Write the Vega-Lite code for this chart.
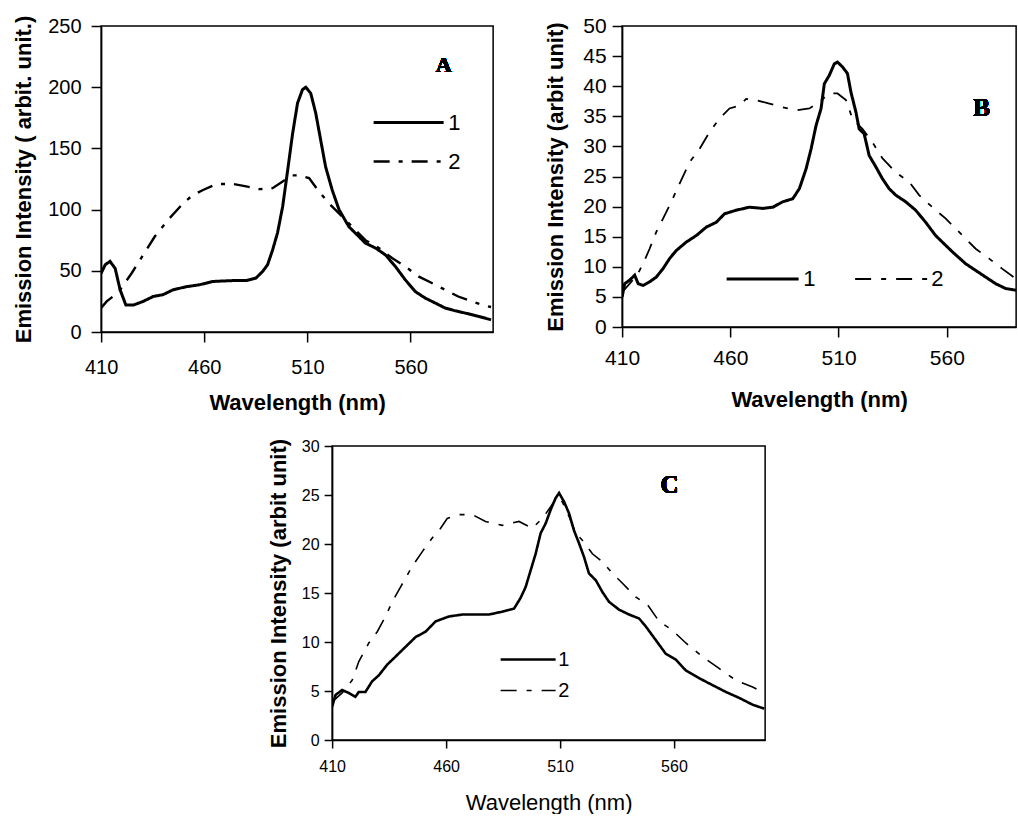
{
"$schema": "https://vega.github.io/schema/vega-lite/v6.json",
"background": "white",
"padding": {"left": 12, "top": 14, "right": 0, "bottom": 0},
"spacing": 23,
"center": true,
"config": {
  "view": {"stroke": "black", "strokeWidth": 1.5},
  "axis": {"domainColor": "black", "domainWidth": 1.5, "tickColor": "black", "tickWidth": 1.5, "tickSize": 10, "labelColor": "black", "titleColor": "black", "labelFont": "Liberation Sans", "titleFont": "Liberation Sans", "grid": false, "labelFlush": false, "labelOverlap": false},
  "legend": {"symbolStrokeColor": "black", "labelFont": "Liberation Sans", "labelColor": "black", "padding": 0, "symbolType": "stroke"}
},
"datasets": {
"A": [
{"wl":410,"intensity":48,"series":"1"},{"wl":412,"intensity":55,"series":"1"},{"wl":414.3,"intensity":57.7,"series":"1"},{"wl":416.8,"intensity":52,"series":"1"},{"wl":419.2,"intensity":34.5,"series":"1"},{"wl":422,"intensity":22,"series":"1"},{"wl":425.6,"intensity":22,"series":"1"},{"wl":430.4,"intensity":25,"series":"1"},{"wl":435.2,"intensity":29,"series":"1"},{"wl":440,"intensity":30.5,"series":"1"},{"wl":444.9,"intensity":34.5,"series":"1"},{"wl":451.3,"intensity":37,"series":"1"},{"wl":457.7,"intensity":38.6,"series":"1"},{"wl":464.2,"intensity":41.3,"series":"1"},{"wl":473.8,"intensity":42,"series":"1"},{"wl":480.3,"intensity":42,"series":"1"},{"wl":485,"intensity":44,"series":"1"},{"wl":488.3,"intensity":49.5,"series":"1"},{"wl":490.7,"intensity":55,"series":"1"},{"wl":493.1,"intensity":67,"series":"1"},{"wl":495.5,"intensity":81,"series":"1"},{"wl":498,"intensity":102.6,"series":"1"},{"wl":500.4,"intensity":132,"series":"1"},{"wl":502.8,"intensity":162,"series":"1"},{"wl":505.2,"intensity":187,"series":"1"},{"wl":507.6,"intensity":198,"series":"1"},{"wl":509.2,"intensity":200,"series":"1"},{"wl":511.6,"intensity":195,"series":"1"},{"wl":514,"intensity":179,"series":"1"},{"wl":516.4,"intensity":157,"series":"1"},{"wl":518.8,"intensity":135,"series":"1"},{"wl":522,"intensity":116,"series":"1"},{"wl":525.3,"intensity":100,"series":"1"},{"wl":530.1,"intensity":86,"series":"1"},{"wl":534.9,"intensity":78,"series":"1"},{"wl":538.1,"intensity":72.6,"series":"1"},{"wl":543,"intensity":68.6,"series":"1"},{"wl":547.8,"intensity":63,"series":"1"},{"wl":552.6,"intensity":53.6,"series":"1"},{"wl":557.4,"intensity":42.7,"series":"1"},{"wl":562.3,"intensity":33,"series":"1"},{"wl":567.1,"intensity":27.7,"series":"1"},{"wl":571.9,"intensity":23.7,"series":"1"},{"wl":576.7,"intensity":19.6,"series":"1"},{"wl":581.5,"intensity":17.4,"series":"1"},{"wl":586.4,"intensity":15.5,"series":"1"},{"wl":592.8,"intensity":12.8,"series":"1"},{"wl":599,"intensity":10,"series":"1"},
{"wl":410,"intensity":19.6,"series":"2"},{"wl":412.7,"intensity":25,"series":"2"},{"wl":416.8,"intensity":30.5,"series":"2"},{"wl":419.2,"intensity":34.5,"series":"2"},{"wl":424.8,"intensity":48,"series":"2"},{"wl":430.4,"intensity":63,"series":"2"},{"wl":436,"intensity":78,"series":"2"},{"wl":442.5,"intensity":91.7,"series":"2"},{"wl":449.7,"intensity":105,"series":"2"},{"wl":454.5,"intensity":112,"series":"2"},{"wl":459.4,"intensity":116,"series":"2"},{"wl":465.8,"intensity":120.8,"series":"2"},{"wl":473.8,"intensity":121,"series":"2"},{"wl":480.3,"intensity":119,"series":"2"},{"wl":486.7,"intensity":116.7,"series":"2"},{"wl":493.1,"intensity":117.5,"series":"2"},{"wl":498,"intensity":123,"series":"2"},{"wl":502.8,"intensity":128,"series":"2"},{"wl":506,"intensity":128,"series":"2"},{"wl":510.8,"intensity":125.7,"series":"2"},{"wl":515.6,"intensity":114.8,"series":"2"},{"wl":520.5,"intensity":105,"series":"2"},{"wl":525.3,"intensity":97,"series":"2"},{"wl":531.7,"intensity":86,"series":"2"},{"wl":538.1,"intensity":75,"series":"2"},{"wl":544.6,"intensity":68.6,"series":"2"},{"wl":551,"intensity":60.4,"series":"2"},{"wl":557.4,"intensity":53.6,"series":"2"},{"wl":563.8,"intensity":45.4,"series":"2"},{"wl":570.3,"intensity":40,"series":"2"},{"wl":576.7,"intensity":34.5,"series":"2"},{"wl":583.1,"intensity":29,"series":"2"},{"wl":589.5,"intensity":25,"series":"2"},{"wl":596,"intensity":21.5,"series":"2"},{"wl":599,"intensity":20.4,"series":"2"}
],
"B": [
{"wl":410,"intensity":5,"series":"1"},{"wl":411.2,"intensity":7.2,"series":"1"},{"wl":413.5,"intensity":7.8,"series":"1"},{"wl":415.8,"intensity":8.6,"series":"1"},{"wl":417.4,"intensity":7.2,"series":"1"},{"wl":419.7,"intensity":6.9,"series":"1"},{"wl":422.7,"intensity":7.5,"series":"1"},{"wl":425.8,"intensity":8.3,"series":"1"},{"wl":428.9,"intensity":9.7,"series":"1"},{"wl":432,"intensity":11.4,"series":"1"},{"wl":435,"intensity":12.7,"series":"1"},{"wl":439.6,"intensity":14.1,"series":"1"},{"wl":444.3,"intensity":15.2,"series":"1"},{"wl":448.9,"intensity":16.6,"series":"1"},{"wl":453.5,"intensity":17.4,"series":"1"},{"wl":457.3,"intensity":18.8,"series":"1"},{"wl":462.7,"intensity":19.4,"series":"1"},{"wl":468.8,"intensity":19.9,"series":"1"},{"wl":475,"intensity":19.7,"series":"1"},{"wl":479.6,"intensity":19.9,"series":"1"},{"wl":484.2,"intensity":20.8,"series":"1"},{"wl":488.8,"intensity":21.3,"series":"1"},{"wl":491.9,"intensity":23,"series":"1"},{"wl":495,"intensity":26.3,"series":"1"},{"wl":497.3,"intensity":29.6,"series":"1"},{"wl":499.6,"intensity":33.5,"series":"1"},{"wl":501.9,"intensity":36.3,"series":"1"},{"wl":503.4,"intensity":40.4,"series":"1"},{"wl":505.7,"intensity":41.8,"series":"1"},{"wl":508,"intensity":43.7,"series":"1"},{"wl":509.5,"intensity":44,"series":"1"},{"wl":511.8,"intensity":43.2,"series":"1"},{"wl":514.1,"intensity":42.1,"series":"1"},{"wl":515.7,"intensity":39,"series":"1"},{"wl":518,"intensity":35.7,"series":"1"},{"wl":519.5,"intensity":32.9,"series":"1"},{"wl":521.8,"intensity":32.1,"series":"1"},{"wl":524.1,"intensity":28.5,"series":"1"},{"wl":527.2,"intensity":26.6,"series":"1"},{"wl":530.3,"intensity":24.6,"series":"1"},{"wl":533.3,"intensity":23,"series":"1"},{"wl":536.4,"intensity":21.9,"series":"1"},{"wl":541,"intensity":20.8,"series":"1"},{"wl":545.6,"intensity":19.4,"series":"1"},{"wl":550.2,"intensity":17.4,"series":"1"},{"wl":554.8,"intensity":15.2,"series":"1"},{"wl":562.5,"intensity":12.5,"series":"1"},{"wl":568.7,"intensity":10.5,"series":"1"},{"wl":573.3,"intensity":9.4,"series":"1"},{"wl":577.9,"intensity":8.3,"series":"1"},{"wl":582.5,"intensity":7.2,"series":"1"},{"wl":587.1,"intensity":6.4,"series":"1"},{"wl":592,"intensity":6.1,"series":"1"},
{"wl":410,"intensity":5.8,"series":"2"},{"wl":413.5,"intensity":7.2,"series":"2"},{"wl":417.4,"intensity":8.9,"series":"2"},{"wl":420.4,"intensity":11.1,"series":"2"},{"wl":422.7,"intensity":13,"series":"2"},{"wl":425.8,"intensity":15.8,"series":"2"},{"wl":428.9,"intensity":18,"series":"2"},{"wl":432.7,"intensity":20.8,"series":"2"},{"wl":437.3,"intensity":24.4,"series":"2"},{"wl":441.2,"intensity":27.4,"series":"2"},{"wl":445.8,"intensity":29.6,"series":"2"},{"wl":450.4,"intensity":32.4,"series":"2"},{"wl":454.9,"intensity":34.6,"series":"2"},{"wl":459.6,"intensity":36.3,"series":"2"},{"wl":464.2,"intensity":36.8,"series":"2"},{"wl":467.3,"intensity":37.9,"series":"2"},{"wl":471.9,"intensity":37.7,"series":"2"},{"wl":478,"intensity":37.1,"series":"2"},{"wl":484.2,"intensity":36.5,"series":"2"},{"wl":490.3,"intensity":36,"series":"2"},{"wl":496.5,"intensity":36.3,"series":"2"},{"wl":501.1,"intensity":37.4,"series":"2"},{"wl":505.7,"intensity":38.8,"series":"2"},{"wl":509.5,"intensity":38.8,"series":"2"},{"wl":513.4,"intensity":37.7,"series":"2"},{"wl":516.4,"intensity":34.6,"series":"2"},{"wl":521,"intensity":32.9,"series":"2"},{"wl":525.6,"intensity":30.7,"series":"2"},{"wl":530.3,"intensity":28,"series":"2"},{"wl":536.4,"intensity":25.7,"series":"2"},{"wl":542.6,"intensity":24.1,"series":"2"},{"wl":547.2,"intensity":21.9,"series":"2"},{"wl":553.3,"intensity":19.9,"series":"2"},{"wl":559.5,"intensity":18,"series":"2"},{"wl":565.6,"intensity":15.8,"series":"2"},{"wl":573.3,"intensity":13,"series":"2"},{"wl":579.4,"intensity":11.4,"series":"2"},{"wl":585.5,"intensity":9.7,"series":"2"},{"wl":592,"intensity":8,"series":"2"}
],
"C": [
{"wl":410,"intensity":3.4,"series":"1"},{"wl":411.5,"intensity":4.6,"series":"1"},{"wl":414.4,"intensity":5.1,"series":"1"},{"wl":417.3,"intensity":4.8,"series":"1"},{"wl":420.2,"intensity":4.4,"series":"1"},{"wl":421.7,"intensity":4.9,"series":"1"},{"wl":424.6,"intensity":4.9,"series":"1"},{"wl":427.6,"intensity":6,"series":"1"},{"wl":430.5,"intensity":6.6,"series":"1"},{"wl":434.2,"intensity":7.7,"series":"1"},{"wl":437.8,"intensity":8.5,"series":"1"},{"wl":442.2,"intensity":9.5,"series":"1"},{"wl":446.6,"intensity":10.5,"series":"1"},{"wl":451,"intensity":11.05,"series":"1"},{"wl":455.4,"intensity":12.1,"series":"1"},{"wl":461.2,"intensity":12.6,"series":"1"},{"wl":467.1,"intensity":12.8,"series":"1"},{"wl":473,"intensity":12.8,"series":"1"},{"wl":478.8,"intensity":12.8,"series":"1"},{"wl":484.7,"intensity":13.1,"series":"1"},{"wl":489.8,"intensity":13.4,"series":"1"},{"wl":492.7,"intensity":14.5,"series":"1"},{"wl":494.9,"intensity":15.6,"series":"1"},{"wl":497.1,"intensity":17.3,"series":"1"},{"wl":499.3,"intensity":19,"series":"1"},{"wl":501.5,"intensity":21.1,"series":"1"},{"wl":503.7,"intensity":22.1,"series":"1"},{"wl":505.9,"intensity":23.5,"series":"1"},{"wl":508.1,"intensity":24.7,"series":"1"},{"wl":509.6,"intensity":25.2,"series":"1"},{"wl":511.8,"intensity":24.3,"series":"1"},{"wl":514,"intensity":23.1,"series":"1"},{"wl":516.1,"intensity":21.4,"series":"1"},{"wl":518.3,"intensity":20.1,"series":"1"},{"wl":520.5,"intensity":18.7,"series":"1"},{"wl":522.7,"intensity":17,"series":"1"},{"wl":525.7,"intensity":16.3,"series":"1"},{"wl":528.6,"intensity":15.1,"series":"1"},{"wl":531.5,"intensity":14.1,"series":"1"},{"wl":535.9,"intensity":13.3,"series":"1"},{"wl":540.3,"intensity":12.8,"series":"1"},{"wl":544.7,"intensity":12.4,"series":"1"},{"wl":547.6,"intensity":11.6,"series":"1"},{"wl":552,"intensity":10.2,"series":"1"},{"wl":556.4,"intensity":8.8,"series":"1"},{"wl":560.8,"intensity":8.2,"series":"1"},{"wl":565.2,"intensity":7.1,"series":"1"},{"wl":571.1,"intensity":6.3,"series":"1"},{"wl":576.9,"intensity":5.6,"series":"1"},{"wl":582.8,"intensity":4.9,"series":"1"},{"wl":588.6,"intensity":4.3,"series":"1"},{"wl":594.5,"intensity":3.6,"series":"1"},{"wl":599.6,"intensity":3.2,"series":"1"},
{"wl":410,"intensity":3.9,"series":"2"},{"wl":414.4,"intensity":4.8,"series":"2"},{"wl":418.8,"intensity":6.1,"series":"2"},{"wl":421.7,"intensity":8,"series":"2"},{"wl":426.1,"intensity":9.9,"series":"2"},{"wl":429.8,"intensity":11.05,"series":"2"},{"wl":433.4,"intensity":12.6,"series":"2"},{"wl":436.4,"intensity":14.1,"series":"2"},{"wl":440,"intensity":15.6,"series":"2"},{"wl":445.1,"intensity":17.7,"series":"2"},{"wl":449.5,"intensity":19.2,"series":"2"},{"wl":453.9,"intensity":20.6,"series":"2"},{"wl":457.6,"intensity":21.6,"series":"2"},{"wl":460.5,"intensity":22.6,"series":"2"},{"wl":465.6,"intensity":23,"series":"2"},{"wl":471.5,"intensity":23,"series":"2"},{"wl":477.3,"intensity":22.3,"series":"2"},{"wl":484.7,"intensity":21.9,"series":"2"},{"wl":492,"intensity":22.3,"series":"2"},{"wl":497.8,"intensity":21.6,"series":"2"},{"wl":502.2,"intensity":22.6,"series":"2"},{"wl":505.9,"intensity":23.8,"series":"2"},{"wl":508.8,"intensity":24.8,"series":"2"},{"wl":511,"intensity":24.3,"series":"2"},{"wl":514,"intensity":22.8,"series":"2"},{"wl":516.9,"intensity":21.1,"series":"2"},{"wl":520.5,"intensity":20.2,"series":"2"},{"wl":524.2,"intensity":19,"series":"2"},{"wl":528.6,"intensity":18.2,"series":"2"},{"wl":533,"intensity":17,"series":"2"},{"wl":537.4,"intensity":16,"series":"2"},{"wl":543.2,"intensity":14.6,"series":"2"},{"wl":548.4,"intensity":13.8,"series":"2"},{"wl":553.5,"intensity":12.1,"series":"2"},{"wl":559.3,"intensity":11.2,"series":"2"},{"wl":565.2,"intensity":9.9,"series":"2"},{"wl":572.5,"intensity":8.5,"series":"2"},{"wl":579.8,"intensity":7.3,"series":"2"},{"wl":587.1,"intensity":6.1,"series":"2"},{"wl":594.5,"intensity":5.4,"series":"2"},{"wl":599.6,"intensity":4.8,"series":"2"}
]
},
"vconcat": [
 {"hconcat": [
  {"width": 392, "height": 306, "data": {"name": "A"},
   "encoding": {
      "x": {"field": "wl", "type": "quantitative", "scale": {"domain": [410, 600], "nice": false, "zero": false},
            "axis": {"values": [410, 460, 510, 560], "title": "Wavelength (nm)", "labelFontSize": 20, "titleFontSize": 22, "titleFontWeight": "bold", "labelPadding": 15, "titlePadding": 15}},
      "y": {"field": "intensity", "type": "quantitative", "scale": {"domain": [0, 250], "nice": false},
            "axis": {"values": [0, 50, 100, 150, 200, 250], "title": "Emission Intensity ( arbit. unit.)", "labelFontSize": 20, "titleFontSize": 22, "titleFontWeight": "bold", "labelPadding": 10, "titlePadding": 12}}
   },
   "layer": [
    {"mark": {"type": "line", "color": "black", "clip": true},
     "encoding": {
      "strokeDash": {"field": "series", "type": "ordinal", "scale": {"domain": ["1", "2"], "range": [[1, 0], [16, 9, 4, 9]]},
            "legend": {"title": null, "orient": "none", "legendX": 271, "legendY": 77, "direction": "vertical", "symbolSize": 4900, "labelFontSize": 22, "labelOffset": 3, "rowPadding": 0, "clipHeight": 39}},
      "strokeWidth": {"field": "series", "type": "ordinal", "scale": {"domain": ["1", "2"], "range": [3, 2.4]},
            "legend": {"title": null, "orient": "none", "legendX": 271, "legendY": 77, "direction": "vertical", "symbolSize": 4900, "labelFontSize": 22, "labelOffset": 3, "rowPadding": 0, "clipHeight": 39}}
     }},
    {"mark": {"type": "text", "font": "Liberation Serif", "fontWeight": "bold", "fontSize": 22, "color": "black", "align": "center", "baseline": "middle"},
     "encoding": {"x": {"datum": 576}, "y": {"datum": 218}, "text": {"value": "A"}}}
   ]},
  {"width": 394, "height": 301, "data": {"name": "B"},
   "encoding": {
      "x": {"field": "wl", "type": "quantitative", "scale": {"domain": [410, 592], "nice": false, "zero": false},
            "axis": {"values": [410, 460, 510, 560], "title": "Wavelength (nm)", "labelFontSize": 21, "titleFontSize": 22, "titleFontWeight": "bold", "labelPadding": 10, "titlePadding": 21}},
      "y": {"field": "intensity", "type": "quantitative", "scale": {"domain": [0, 50], "nice": false},
            "axis": {"values": [0, 5, 10, 15, 20, 25, 30, 35, 40, 45, 50], "labelOverlap": false, "title": "Emission Intensity (arbit unit)", "labelFontSize": 21, "titleFontSize": 22, "titleFontWeight": "bold", "labelPadding": 6, "titlePadding": 15}}
   },
   "layer": [
    {"mark": {"type": "line", "color": "black", "clip": true},
     "encoding": {
      "strokeDash": {"field": "series", "type": "ordinal", "scale": {"domain": ["1", "2"], "range": [[1, 0], [16, 10, 5, 10]]},
            "legend": {"title": null, "orient": "none", "legendX": 103, "legendY": 235, "direction": "horizontal", "symbolSize": 5184, "labelFontSize": 22, "labelOffset": 3, "columnPadding": 38, "clipHeight": 36}},
      "strokeWidth": {"field": "series", "type": "ordinal", "scale": {"domain": ["1", "2"], "range": [3, 1.8]},
            "legend": {"title": null, "orient": "none", "legendX": 103, "legendY": 235, "direction": "horizontal", "symbolSize": 5184, "labelFontSize": 22, "labelOffset": 3, "columnPadding": 38, "clipHeight": 36}}
     }},
    {"mark": {"type": "text", "font": "Liberation Serif", "fontWeight": "bold", "fontSize": 25, "color": "black", "align": "center", "baseline": "middle"},
     "encoding": {"x": {"datum": 576}, "y": {"datum": 36.4}, "text": {"value": "B"}}}
   ]}
 ], "spacing": 49,
 "resolve": {"scale": {"strokeDash": "independent", "strokeWidth": "independent"}, "legend": {"strokeDash": "independent", "strokeWidth": "independent"}}},
 {"width": 433, "height": 294, "data": {"name": "C"},
  "encoding": {
     "x": {"field": "wl", "type": "quantitative", "scale": {"domain": [410, 600], "nice": false, "zero": false},
           "axis": {"values": [410, 460, 510, 560], "title": "Wavelength (nm)", "labelFontSize": 16, "titleFontSize": 22, "titleFontWeight": "normal", "tickSize": 8, "labelPadding": 10, "titlePadding": 18}}
  },
  "layer": [
   {"mark": {"type": "line", "color": "black", "clip": true},
    "encoding": {
     "y": {"field": "intensity", "type": "quantitative", "scale": {"domain": [0, 30], "nice": false},
           "axis": {"values": [0, 5, 10, 15, 20, 25, 30], "title": "Emission Intensity (arbit unit)", "labelFontSize": 16, "titleFontSize": 22, "titleFontWeight": "bold", "tickSize": 8, "labelPadding": 5, "titlePadding": 11}},
     "strokeDash": {"field": "series", "type": "ordinal", "scale": {"domain": ["1", "2"], "range": [[1, 0], [16, 10, 5, 10]]},
           "legend": {"title": null, "orient": "none", "legendX": 167, "legendY": 198, "direction": "vertical", "symbolSize": 3025, "labelFontSize": 20, "labelOffset": 1, "rowPadding": 0, "clipHeight": 31}},
     "strokeWidth": {"field": "series", "type": "ordinal", "scale": {"domain": ["1", "2"], "range": [2.6, 1.6]},
           "legend": {"title": null, "orient": "none", "legendX": 167, "legendY": 198, "direction": "vertical", "symbolSize": 3025, "labelFontSize": 20, "labelOffset": 1, "rowPadding": 0, "clipHeight": 31}}
    }},
   {"mark": {"type": "text", "font": "Liberation Serif", "fontWeight": "bold", "fontSize": 25, "color": "black", "align": "center", "baseline": "middle"},
    "encoding": {"x": {"datum": 558},
                 "y": {"datum": 26, "type": "quantitative", "axis": {"orient": "right", "title": " ", "titleFontSize": 20, "titlePadding": 0, "domain": false, "ticks": false, "labels": false, "grid": false}},
                 "text": {"value": "C"}}}
  ],
  "resolve": {"axis": {"y": "independent"}}}
],
"resolve": {"scale": {"strokeDash": "independent", "strokeWidth": "independent"}, "legend": {"strokeDash": "independent", "strokeWidth": "independent"}}
}
